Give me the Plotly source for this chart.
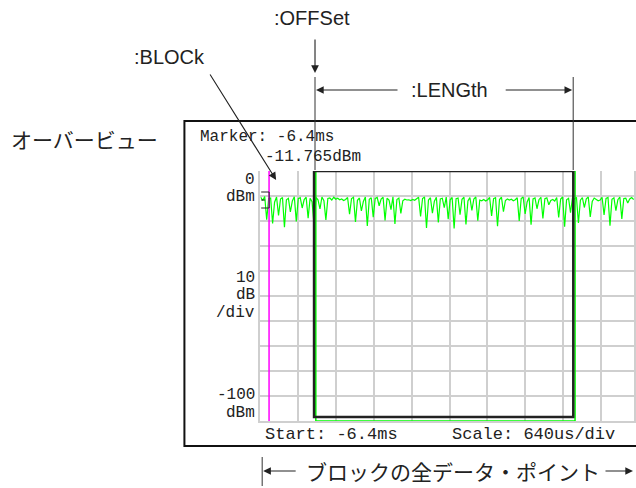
import numpy as np
import plotly.graph_objects as go

W, H = 636, 488

# ---- chart data ----
TIME_START_MS = -6.4          # "Start: -6.4ms"
SCALE_MS_PER_DIV = 0.64       # "Scale: 640us/div"
REF_LEVEL_DBM = 0             # top of screen
DB_PER_DIV = 10               # "10 dB/div"
BOTTOM_DBM = -100
MARKER_POS_MS = -6.25
MARKER_LABEL = "Marker: -6.4ms"
MARKER_LEVEL_LABEL = "-11.765dBm"
OFFSET_MS = -5.49
LENGTH_MS = 4.38
BOX_BOTTOM_DBM = -98.4

trace_dbm = [
    -10.5, -11.8, -10.2, -19.5, -11.0, -10.8, -21.0, -12.5, -10.4, -17.8,
    -11.2, -10.6, -22.5, -11.5, -10.9, -16.4, -12.0, -10.3, -20.2, -11.1,
    -10.7, -14.8, -11.4, -10.5, -18.9, -10.9, -12.3, -21.8, -10.6, -11.5,
    -15.2, -10.4, -11.9, -19.6, -11.0, -10.8, -11.6, -10.5, -11.3, -10.9,
    -11.5, -11.2, -11.8, -11.4, -10.6, -17.3, -11.0, -10.5, -20.4, -11.7,
    -10.8, -16.0, -12.2, -10.4, -22.0, -11.3, -10.7, -18.5, -11.0, -10.6,
    -13.9, -11.2, -10.5, -19.8, -10.9, -11.6, -15.5, -10.3, -21.2, -11.4,
    -10.8, -17.0, -11.9, -11.3, -11.6, -11.5, -11.8, -11.4, -11.7, -11.2,
    -10.5, -18.2, -11.0, -10.4, -22.8, -11.6, -10.7, -16.9, -12.1, -10.5,
    -20.6, -11.2, -10.9, -14.7, -10.4, -19.3, -11.5, -10.6, -23.0, -11.1,
    -10.8, -17.5, -11.3, -10.5, -21.4, -12.0, -10.6, -15.8, -11.2, -10.4,
    -19.9, -11.6, -11.9, -11.4, -12.0, -11.5, -10.6, -18.0, -11.1, -10.7,
    -22.1, -11.4, -10.5, -16.3, -11.8, -11.2, -11.6, -11.3, -11.9, -11.5,
    -10.7, -20.0, -11.0, -10.4, -17.2, -12.4, -10.6, -21.5, -11.2, -10.8,
    -15.1, -11.5, -10.5, -19.0, -11.1, -10.7, -13.5, -11.8, -11.4, -12.0,
    -10.6, -18.6, -11.2, -10.4, -22.3, -11.5, -10.9, -16.7, -10.6, -11.3,
    -10.5, -20.8, -11.7, -10.6, -14.6, -11.1, -10.4, -18.4, -12.2, -10.8,
    -11.4, -11.9, -11.6, -10.5, -17.6, -11.0, -10.6, -21.9, -11.3, -10.7,
    -15.9, -11.5, -10.4, -19.2, -11.0, -10.9, -12.8, -11.2, -10.6, -11.4,
]
TRACE_T0_MS = -6.39
TRACE_T1_MS = -0.09

y_labels = [("0", 180), ("dBm", 197), ("10", 278), ("dB", 295), ("/div", 313),
            ("-100", 395), ("dBm", 413)]

# ---- layout geometry (pixels) ----
GX0, GX1, GY0, GY1 = 261, 636, 171, 421
PX_PER_DIV = 38


def px(x):
    return x / W


def py(y):
    return 1 - y / H


t = np.linspace(TRACE_T0_MS, TRACE_T1_MS, len(trace_dbm))
x_end = TIME_START_MS + SCALE_MS_PER_DIV * (GX1 - GX0) / PX_PER_DIV

fig = go.Figure()
fig.add_trace(go.Scatter(x=t, y=trace_dbm, mode="lines",
                         line=dict(color="#00ff00", width=1.2), hoverinfo="skip"))

MONO = "Liberation Mono, Courier New, monospace"
SANS = "Liberation Sans, Arial, Helvetica, sans-serif"
JP = "Noto Sans CJK JP"

shapes = []
# green selection box (slightly offset) and black block box
shapes.append(dict(type="rect", xref="x", yref="y", x0=OFFSET_MS + 0.03,
                   x1=OFFSET_MS + LENGTH_MS + 0.03, y0=REF_LEVEL_DBM, y1=BOTTOM_DBM,
                   line=dict(color="#00ff00", width=1.5)))
shapes.append(dict(type="rect", xref="x", yref="y", x0=OFFSET_MS,
                   x1=OFFSET_MS + LENGTH_MS, y0=REF_LEVEL_DBM, y1=BOX_BOTTOM_DBM,
                   line=dict(color="#222222", width=2.5)))
# marker line
shapes.append(dict(type="line", xref="x", yref="y", x0=MARKER_POS_MS, x1=MARKER_POS_MS,
                   y0=REF_LEVEL_DBM, y1=BOTTOM_DBM, line=dict(color="#ff00ff", width=1.5)))
# outer frame
shapes.append(dict(type="rect", xref="paper", yref="paper", x0=px(185), x1=px(660),
                   y0=py(446), y1=py(121), line=dict(color="#111111", width=2)))
# reference bracket
shapes.append(dict(type="path", xref="paper", yref="paper",
                   path=f"M {px(262)},{py(192)} L {px(270)},{py(192)} L {px(270)},{py(208)} L {px(262)},{py(208)}",
                   line=dict(color="#222222", width=1)))
shapes.append(dict(type="line", xref="paper", yref="paper", x0=px(262), x1=px(266),
                   y0=py(200), y1=py(200), line=dict(color="#222222", width=1)))
# guide lines for offset / length
for xx in (316, 575):
    shapes.append(dict(type="line", xref="paper", yref="paper", x0=px(xx), x1=px(xx),
                       y0=py(77), y1=py(170), line=dict(color="#333333", width=1)))
# bottom bar
shapes.append(dict(type="line", xref="paper", yref="paper", x0=px(263), x1=px(263),
                   y0=py(457), y1=py(486), line=dict(color="#333333", width=1)))

ann = []


def text(s, x, y, anchor="left", size=13, family=MONO, color="#222222"):
    ann.append(dict(text=s, x=px(x), y=py(y), xref="paper", yref="paper",
                    xanchor=anchor, yanchor="middle", showarrow=False,
                    font=dict(family=family, size=size, color=color)))


def arrow(tail, tip):
    ann.append(dict(text="", x=px(tip[0]), y=py(tip[1]), xref="paper", yref="paper",
                    ax=tail[0] - tip[0], ay=tail[1] - tip[1], showarrow=True,
                    arrowhead=2, arrowsize=1.4, arrowwidth=1.1, arrowcolor="#222222",
                    standoff=0, startstandoff=0))


MS = 16
text(MARKER_LABEL, 199, 137, size=MS)
text(MARKER_LEVEL_LABEL, 264, 157, size=MS)
for s, yy in y_labels:
    text(s, 258, yy, anchor="right", size=MS)
text("Start: -6.4ms", 264, 434, size=17)
text("Scale: 640us/div", 451, 434, size=17)

text(":OFFSet", 313, 18, anchor="center", size=20, family=SANS)
text(":LENGth", 451, 90, anchor="center", size=20, family=SANS)
text(":BLOCk", 170, 57, anchor="center", size=20, family=SANS)
text("オーバービュー", 85, 139, anchor="center", size=21, family=JP)
text("ブロックの全データ・ポイント", 454, 471, anchor="center", size=21, family=JP)

arrow((316, 38), (316, 73))
arrow((400, 90), (317, 90))
arrow((506, 90), (574, 90))
arrow((210, 73), (277, 180))
arrow((298, 471), (264, 471))
arrow((606, 471), (635, 471))

fig.update_layout(
    width=W, height=H, margin=dict(l=0, r=0, t=0, b=0),
    paper_bgcolor="white", plot_bgcolor="white", showlegend=False,
    shapes=shapes, annotations=ann,
    xaxis=dict(domain=[px(GX0), 1], range=[TIME_START_MS, x_end],
               tick0=TIME_START_MS, dtick=SCALE_MS_PER_DIV, showticklabels=False,
               showgrid=True, gridcolor="#cfcfcf", gridwidth=2, zeroline=False,
               showline=True, linecolor="#cfcfcf", linewidth=2, ticks=""),
    yaxis=dict(domain=[py(GY1), py(GY0)], range=[BOTTOM_DBM, REF_LEVEL_DBM],
               tick0=BOTTOM_DBM, dtick=DB_PER_DIV, showticklabels=False,
               showgrid=True, gridcolor="#cfcfcf", gridwidth=2, zeroline=False,
               showline=True, linecolor="#cfcfcf", linewidth=2, mirror=True, ticks=""),
)

fig.write_html("out.html", config={"displayModeBar": False, "staticPlot": True},
               post_script="document.body.style.margin='0';document.body.style.overflow='hidden';")
